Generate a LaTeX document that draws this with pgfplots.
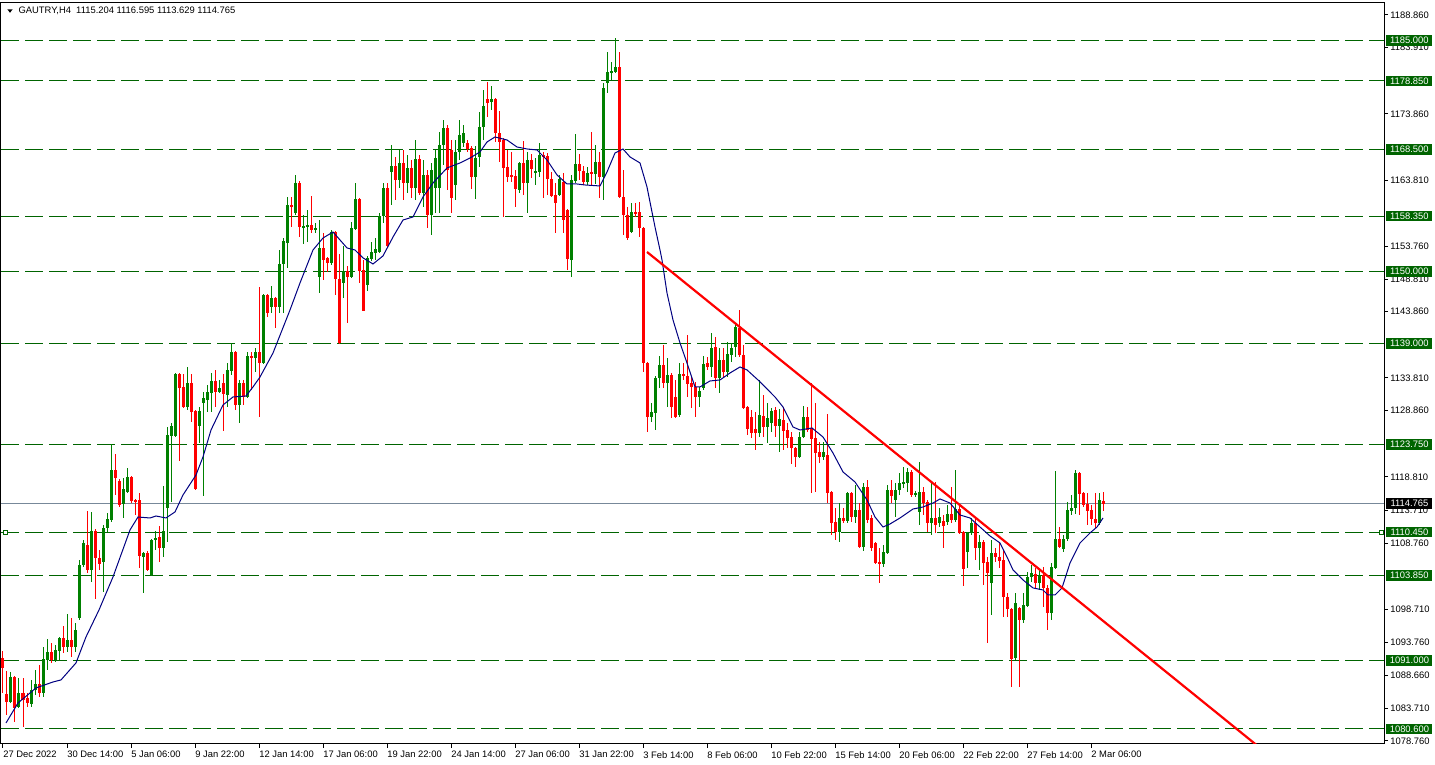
\documentclass[border=0pt]{standalone}
\usepackage{fontspec}
\setmainfont{Liberation Sans}
\usepackage{pgfplots}
\usepackage{pgfplotstable}
\pgfplotsset{compat=1.18}

\definecolor{cgreen}{RGB}{0,128,0}
\definecolor{cred}{RGB}{255,0,0}
\definecolor{lvl}{RGB}{0,100,0}
\definecolor{bid}{RGB}{119,136,153}
\definecolor{ma}{RGB}{0,0,128}
\newcommand\lbl{\fontsize{4.7}{5.6}\selectfont}

% bullish candles: bar index, open, high, low, close
\pgfplotstableread{
i o h l c
2 1084.68 1089.23 1084.53 1088.47
4 1083.92 1088.32 1083.77 1086.04
7 1084.37 1088.02 1083.92 1086.50
8 1086.50 1089.53 1085.74 1087.41
10 1086.04 1093.02 1085.43 1091.20
11 1091.05 1094.23 1089.53 1092.26
13 1091.05 1093.32 1090.75 1092.57
14 1092.41 1094.54 1091.05 1094.38
16 1093.02 1098.02 1092.26 1094.08
18 1093.02 1096.66 1092.26 1095.59
19 1097.42 1106.21 1097.12 1105.45
20 1105.45 1109.25 1105.15 1108.79
22 1104.70 1113.49 1102.88 1110.61
25 1105.91 1111.52 1101.36 1111.06
26 1111.06 1113.34 1110.46 1112.43
27 1112.28 1123.80 1111.97 1119.86
30 1114.70 1118.64 1112.58 1116.98
31 1116.52 1120.16 1116.37 1118.80
35 1106.67 1107.40 1101.21 1107.27
37 1103.94 1109.40 1103.80 1109.25
38 1109.25 1110.61 1107.73 1109.55
40 1108.03 1117.44 1106.67 1110.61
41 1114.10 1126.38 1108.94 1125.17
42 1125.01 1126.99 1115.01 1126.53
43 1125.01 1134.57 1124.86 1134.42
46 1129.41 1135.48 1128.96 1133.05
49 1126.53 1129.41 1123.96 1128.81
50 1130.02 1131.69 1115.92 1130.78
51 1130.48 1132.75 1128.66 1131.69
52 1131.54 1134.57 1128.66 1133.36
54 1131.69 1133.51 1131.54 1132.29
56 1131.23 1136.09 1129.41 1135.03
57 1134.87 1139.12 1134.27 1137.75
59 1129.72 1133.51 1126.99 1133.05
61 1130.93 1137.75 1130.78 1137.15
63 1136.84 1138.36 1134.72 1137.75
65 1136.09 1146.60 1135.90 1146.40
67 1144.58 1147.76 1143.67 1145.95
69 1144.58 1153.22 1143.67 1151.10
70 1151.10 1155.04 1143.67 1154.58
71 1154.28 1161.26 1150.50 1160.05
73 1158.83 1164.60 1158.53 1163.38
75 1156.71 1158.53 1154.13 1156.86
76 1156.71 1159.29 1154.43 1157.02
78 1156.26 1157.32 1155.80 1156.56
79 1149.13 1157.75 1146.70 1153.53
82 1151.26 1156.26 1150.95 1155.95
85 1148.22 1153.83 1145.95 1150.04
87 1149.13 1157.47 1149.00 1156.56
88 1156.41 1163.38 1156.26 1160.96
91 1147.91 1152.32 1147.00 1152.02
92 1151.86 1154.43 1151.56 1152.92
93 1152.77 1155.04 1151.71 1153.38
94 1152.92 1158.83 1152.77 1158.38
95 1158.38 1163.38 1157.32 1162.62
97 1165.05 1169.15 1160.05 1165.96
99 1163.84 1168.39 1162.62 1166.42
101 1163.38 1167.63 1161.87 1165.66
103 1162.62 1169.90 1160.81 1167.02
105 1161.87 1166.87 1159.74 1164.60
107 1158.53 1166.42 1155.50 1165.35
108 1162.62 1168.39 1158.83 1167.17
109 1162.62 1171.12 1158.83 1169.15
110 1169.15 1172.94 1166.11 1171.72
113 1163.08 1169.90 1160.81 1168.09
114 1168.09 1172.94 1166.87 1170.66
115 1169.45 1172.18 1168.84 1170.96
118 1164.29 1168.99 1160.96 1167.17
119 1167.33 1174.15 1165.81 1171.87
120 1171.87 1177.49 1169.90 1175.06
122 1175.67 1178.09 1174.45 1176.12
129 1162.32 1166.50 1161.87 1166.42
131 1163.38 1168.09 1158.83 1166.87
133 1164.90 1167.17 1163.08 1165.20
134 1165.05 1169.45 1164.29 1167.63
139 1161.56 1164.60 1161.41 1163.99
142 1151.71 1164.60 1149.13 1163.84
143 1163.69 1170.81 1163.38 1166.26
146 1163.53 1165.81 1163.08 1164.90
148 1164.75 1169.15 1163.23 1166.57
150 1164.29 1178.55 1160.81 1177.79
151 1178.55 1183.25 1177.03 1180.22
152 1180.07 1181.73 1179.00 1180.37
153 1180.22 1185.37 1180.10 1180.97
157 1155.95 1160.35 1155.80 1158.99
162 1127.90 1130.02 1127.14 1128.66
163 1128.50 1134.12 1125.92 1133.81
164 1133.81 1137.15 1132.29 1135.78
166 1133.05 1136.84 1129.41 1134.27
169 1128.20 1136.09 1127.90 1134.42
174 1130.93 1132.45 1129.41 1131.84
175 1132.29 1137.15 1131.99 1135.93
177 1135.48 1140.64 1133.96 1138.36
179 1133.81 1138.36 1131.54 1136.54
181 1134.72 1139.27 1133.96 1137.45
182 1137.30 1139.12 1136.24 1138.36
183 1138.51 1142.16 1137.00 1141.55
189 1125.47 1133.51 1124.86 1128.20
191 1126.38 1130.02 1124.00 1127.75
192 1126.99 1129.26 1125.62 1128.81
194 1126.53 1129.11 1122.59 1127.60
199 1121.84 1125.62 1121.70 1124.86
200 1124.86 1129.57 1124.70 1127.90
205 1121.84 1124.10 1121.37 1122.59
209 1110.46 1114.85 1108.94 1112.58
211 1112.13 1116.52 1111.82 1116.37
213 1112.73 1117.59 1111.82 1113.79
215 1108.18 1117.89 1107.58 1117.29
220 1105.61 1108.49 1105.15 1107.42
221 1107.27 1117.59 1107.10 1116.83
223 1115.31 1117.89 1112.73 1116.83
224 1116.83 1119.40 1116.07 1117.89
225 1117.74 1120.31 1117.13 1118.04
226 1117.89 1120.16 1116.52 1119.56
228 1116.07 1116.60 1115.80 1116.37
229 1113.49 1121.07 1111.52 1116.52
232 1111.82 1118.04 1110.00 1112.58
234 1111.82 1114.10 1111.21 1112.73
236 1111.97 1114.55 1111.52 1113.19
238 1112.28 1119.86 1111.97 1113.94
241 1107.42 1110.46 1105.00 1110.31
242 1110.31 1112.58 1110.00 1111.82
244 1108.03 1110.00 1104.70 1108.94
247 1102.73 1109.25 1097.87 1107.27
253 1091.35 1101.21 1091.05 1099.69
255 1097.12 1101.21 1096.66 1099.39
256 1099.24 1104.39 1099.09 1103.64
257 1103.64 1105.45 1102.88 1104.24
259 1102.73 1104.70 1101.66 1103.94
262 1098.17 1105.76 1097.12 1105.15
263 1105.00 1119.71 1104.90 1109.40
265 1107.88 1110.00 1107.42 1109.40
266 1109.40 1115.01 1109.10 1113.79
267 1113.64 1116.07 1113.03 1114.10
268 1114.10 1119.86 1113.19 1119.40
274 1111.82 1116.37 1111.52 1115.31
}\upcandles

% bearish candles
\pgfplotstableread{
i o h l c
0 1091.35 1092.41 1086.04 1089.83
1 1085.89 1089.38 1082.71 1084.68
3 1088.47 1088.60 1081.64 1083.77
5 1086.04 1088.32 1080.89 1084.98
6 1085.28 1086.04 1083.92 1084.53
9 1087.41 1090.29 1085.43 1086.04
12 1092.26 1093.63 1090.60 1091.05
15 1094.38 1096.20 1092.11 1093.02
17 1094.08 1097.42 1091.50 1093.02
21 1108.49 1113.64 1104.24 1104.70
23 1110.61 1110.91 1100.30 1106.52
24 1106.52 1107.73 1104.70 1105.61
28 1119.86 1122.28 1116.07 1118.64
29 1118.19 1118.49 1114.25 1114.55
32 1118.80 1118.95 1114.85 1115.16
33 1115.31 1115.40 1113.03 1115.16
34 1115.31 1116.37 1105.00 1106.82
36 1107.27 1107.58 1104.60 1104.70
39 1109.70 1111.36 1105.91 1108.03
44 1134.42 1134.57 1121.20 1132.29
45 1132.45 1134.42 1129.30 1129.41
47 1133.05 1134.42 1127.14 1128.66
48 1128.81 1129.00 1116.83 1116.98
53 1133.36 1135.03 1129.41 1131.69
55 1133.05 1134.42 1125.77 1131.39
58 1137.75 1137.90 1128.96 1129.72
60 1133.05 1133.51 1129.72 1130.93
62 1137.15 1137.75 1131.99 1136.84
64 1137.75 1147.61 1127.90 1136.09
66 1146.40 1146.60 1143.07 1143.67
68 1145.95 1146.10 1141.39 1144.58
72 1160.05 1161.26 1156.71 1159.74
74 1163.38 1163.69 1155.19 1156.71
77 1157.02 1161.41 1155.80 1156.26
80 1153.53 1155.80 1148.67 1151.71
81 1152.02 1152.17 1149.89 1151.26
83 1155.95 1156.10 1146.40 1148.82
84 1148.82 1152.62 1139.00 1139.12
86 1150.04 1150.80 1142.19 1149.13
89 1160.96 1161.11 1148.22 1150.04
90 1150.19 1151.71 1143.90 1143.98
96 1162.62 1163.38 1153.70 1153.83
98 1165.96 1167.33 1160.81 1163.84
100 1166.42 1168.39 1160.81 1163.38
102 1165.66 1166.87 1161.11 1162.62
104 1167.02 1167.63 1161.56 1161.87
106 1164.60 1165.35 1156.56 1158.53
111 1171.72 1172.18 1162.32 1165.35
112 1168.39 1169.90 1158.83 1161.11
116 1169.45 1169.90 1168.09 1168.54
117 1168.69 1168.99 1162.47 1164.29
121 1176.12 1178.70 1173.39 1175.51
123 1176.12 1176.30 1169.60 1170.96
124 1170.96 1174.30 1166.57 1169.60
125 1169.90 1170.20 1158.23 1165.66
126 1165.81 1168.39 1163.53 1164.29
127 1164.60 1168.09 1163.53 1164.29
128 1164.44 1165.35 1159.74 1162.47
130 1166.42 1169.75 1161.56 1163.38
132 1166.87 1167.78 1164.14 1165.50
135 1167.63 1168.09 1161.11 1167.33
136 1167.48 1167.93 1161.56 1163.99
137 1163.99 1165.05 1161.26 1161.41
138 1161.56 1163.38 1155.80 1160.35
140 1163.53 1164.90 1155.80 1157.77
141 1159.29 1159.40 1150.19 1151.86
144 1166.26 1167.78 1163.84 1165.20
145 1165.20 1165.96 1163.08 1163.53
147 1165.05 1171.12 1163.08 1164.75
149 1166.57 1168.09 1161.11 1164.29
154 1180.97 1183.25 1161.10 1161.26
155 1161.26 1165.35 1155.50 1158.53
156 1158.53 1159.74 1154.74 1155.04
158 1158.99 1160.35 1158.23 1158.83
159 1158.99 1160.50 1155.19 1156.56
160 1156.56 1156.70 1134.72 1136.09
161 1136.09 1136.20 1125.62 1127.90
165 1135.78 1138.81 1132.29 1133.05
167 1134.27 1134.57 1127.75 1129.41
168 1130.93 1133.51 1127.75 1127.90
170 1134.42 1136.09 1133.51 1134.12
171 1134.12 1140.33 1130.93 1132.90
172 1133.05 1133.96 1129.26 1132.45
173 1132.45 1133.20 1127.90 1130.93
176 1136.09 1137.00 1135.03 1135.48
178 1138.51 1140.03 1132.29 1133.81
180 1136.54 1138.36 1133.96 1134.72
184 1141.39 1144.12 1137.00 1137.30
185 1137.30 1138.81 1129.10 1129.26
186 1129.41 1129.50 1125.17 1126.08
187 1127.90 1128.96 1124.71 1125.47
188 1126.08 1128.66 1122.89 1125.47
190 1128.05 1131.23 1124.86 1126.38
193 1128.96 1129.41 1124.86 1126.53
195 1127.45 1129.41 1122.89 1125.77
196 1125.92 1126.99 1123.20 1124.71
197 1124.86 1125.62 1120.74 1123.20
198 1123.20 1123.35 1120.28 1121.84
201 1127.90 1129.41 1125.62 1125.92
202 1126.23 1133.05 1116.37 1124.56
203 1124.71 1130.02 1116.52 1122.43
204 1122.59 1124.10 1120.92 1121.84
206 1122.13 1128.35 1114.85 1116.37
207 1116.52 1116.60 1110.00 1111.82
208 1111.97 1114.10 1109.25 1110.46
210 1112.58 1114.10 1111.82 1112.13
212 1116.37 1116.52 1111.97 1112.73
214 1113.79 1114.85 1108.10 1108.18
216 1117.29 1118.34 1111.82 1112.28
217 1112.58 1113.03 1107.58 1108.03
218 1108.79 1108.94 1105.60 1105.76
219 1105.91 1108.03 1102.73 1105.61
222 1116.83 1118.34 1114.85 1115.92
227 1119.56 1119.86 1115.77 1116.07
230 1116.52 1117.29 1113.03 1114.85
231 1115.01 1115.31 1110.46 1111.82
233 1112.58 1118.04 1110.31 1111.52
235 1112.13 1113.03 1108.03 1111.36
237 1113.19 1117.29 1111.82 1112.28
239 1113.94 1114.55 1110.20 1110.31
240 1110.46 1110.60 1102.27 1104.85
243 1111.82 1112.73 1106.21 1108.03
245 1108.94 1109.25 1102.42 1105.76
246 1105.91 1106.67 1093.63 1104.24
248 1107.27 1108.03 1105.91 1106.67
249 1106.67 1108.79 1105.00 1106.06
250 1106.21 1107.73 1097.57 1100.60
251 1100.60 1101.21 1097.57 1098.78
252 1098.78 1098.90 1086.95 1091.20
254 1098.93 1099.09 1086.95 1097.12
258 1104.09 1105.00 1101.97 1102.73
260 1103.94 1105.15 1099.09 1101.97
261 1101.97 1102.42 1095.59 1098.17
264 1109.40 1111.21 1108.03 1108.18
269 1119.40 1119.56 1113.03 1116.22
270 1116.37 1116.52 1114.25 1114.55
271 1114.70 1116.37 1111.52 1113.64
272 1113.79 1114.55 1111.52 1112.43
273 1112.43 1116.37 1111.06 1111.82
275 1115.204 1116.595 1113.629 1114.765
}\downcandles

\begin{document}
\begin{tikzpicture}
\begin{axis}[
    name=ax,
    x=2pt, y=3.297pt,
    xmin=-0.5, xmax=345.25,
    ymin=1078.31, ymax=1190.68,
    axis line style={line width=0.5pt},
    tick style={line width=0.5pt, black},
    tick align=outside, major tick length=2pt,
    xtick pos=bottom, ytick pos=right,
    yticklabel pos=right,
    xtick={0,16,...,272},
    xticklabels={27 Dec 2022, 30 Dec 14:00, 5 Jan 06:00, 9 Jan 22:00,
        12 Jan 14:00, 17 Jan 06:00, 19 Jan 22:00, 24 Jan 14:00,
        27 Jan 06:00, 31 Jan 22:00, 3 Feb 14:00, 8 Feb 06:00,
        10 Feb 22:00, 15 Feb 14:00, 20 Feb 06:00, 22 Feb 22:00,
        27 Feb 14:00, 2 Mar 06:00},
    ytick={1078.76,1083.71,1088.66,1093.76,1098.71,1108.76,
        1113.71,1118.81,1128.86,1133.81,1143.86,
        1148.81,1153.76,1163.81,1173.86,
        1183.91,1188.86},
    scaled y ticks=false,
    xticklabel style={font=\lbl, anchor=north west, inner sep=0pt, yshift=-1.5pt},
    yticklabel style={font=\lbl, anchor=west, inner sep=0pt, xshift=1pt,
        /pgf/number format/fixed, /pgf/number format/fixed zerofill,
        /pgf/number format/precision=3, /pgf/number format/1000 sep={},
        /pgf/number format/assume math mode=true},
]
% price levels
\addplot[lvl, line width=0.5pt, dash pattern=on 9pt off 3pt] coordinates {(-0.5,1185) (345.25,1185)};
\addplot[lvl, line width=0.5pt, dash pattern=on 9pt off 3pt] coordinates {(-0.5,1178.85) (345.25,1178.85)};
\addplot[lvl, line width=0.5pt, dash pattern=on 9pt off 3pt] coordinates {(-0.5,1168.5) (345.25,1168.5)};
\addplot[lvl, line width=0.5pt, dash pattern=on 9pt off 3pt] coordinates {(-0.5,1158.35) (345.25,1158.35)};
\addplot[lvl, line width=0.5pt, dash pattern=on 9pt off 3pt] coordinates {(-0.5,1150) (345.25,1150)};
\addplot[lvl, line width=0.5pt, dash pattern=on 9pt off 3pt] coordinates {(-0.5,1139) (345.25,1139)};
\addplot[lvl, line width=0.5pt, dash pattern=on 9pt off 3pt] coordinates {(-0.5,1123.75) (345.25,1123.75)};
\addplot[lvl, line width=0.5pt, dash pattern=on 9pt off 3pt] coordinates {(-0.5,1110.45) (345.25,1110.45)};
\addplot[lvl, line width=0.5pt, dash pattern=on 9pt off 3pt] coordinates {(-0.5,1103.85) (345.25,1103.85)};
\addplot[lvl, line width=0.5pt, dash pattern=on 9pt off 3pt] coordinates {(-0.5,1091) (345.25,1091)};
\addplot[lvl, line width=0.5pt, dash pattern=on 9pt off 3pt] coordinates {(-0.5,1080.6) (345.25,1080.6)};
% bid line
\addplot[bid, line width=0.5pt] coordinates {(-0.5,1114.765) (345.25,1114.765)};
\addplot[only marks, mark=square*, mark size=1pt, lvl, line width=0.4pt,
    mark options={fill=white}] coordinates {(0.5,1110.45) (344.5,1110.45)};

% wicks and bodies
\addplot[draw=none, mark=none, error bars/.cd, y dir=both, y explicit, error mark=none,
    error bar style={line width=0.5pt, draw=cgreen}]
    table[x=i, y expr=(\thisrow{h}+\thisrow{l})/2, y error expr=(\thisrow{h}-\thisrow{l})/2] {\upcandles};
\addplot[draw=none, mark=none, error bars/.cd, y dir=both, y explicit, error mark=none,
    error bar style={line width=0.5pt, draw=cred}]
    table[x=i, y expr=(\thisrow{h}+\thisrow{l})/2, y error expr=(\thisrow{h}-\thisrow{l})/2] {\downcandles};
\addplot[draw=none, mark=none, error bars/.cd, y dir=both, y explicit, error mark=none,
    error bar style={line width=1.5pt, draw=cgreen}]
    table[x=i, y expr=(\thisrow{o}+\thisrow{c})/2, y error expr={max(abs(\thisrow{c}-\thisrow{o})/2,0.08)}] {\upcandles};
\addplot[draw=none, mark=none, error bars/.cd, y dir=both, y explicit, error mark=none,
    error bar style={line width=1.5pt, draw=cred}]
    table[x=i, y expr=(\thisrow{o}+\thisrow{c})/2, y error expr={max(abs(\thisrow{c}-\thisrow{o})/2,0.08)}] {\downcandles};

% moving average
\addplot[ma, line width=0.5pt] coordinates {
(0.75,1081.49) (3.75,1084.53) (8.25,1086.80) (12.5,1087.71) (14.5,1088.02)
(18.25,1090.60) (20.75,1094.54) (24,1098.63) (27.5,1103.64) (31.75,1110.76)
(33.75,1112.73) (36.75,1112.58) (38.25,1112.88) (40.75,1112.58) (43,1113.49)
(45,1116.07) (48.25,1119.10) (50,1121.84) (52,1125.92) (55,1129.72)
(57.5,1130.93) (60.75,1131.08) (62.5,1132.45) (64.25,1133.96) (67.5,1137.60)
(71.75,1144.12) (74.25,1148.22) (77.5,1153.22) (80,1155.04) (82.5,1155.95)
(84.25,1154.74) (86,1153.53) (88,1153.22) (90,1152.02) (92.5,1151.10)
(95,1152.32) (97.5,1155.19) (100,1157.77) (102.5,1158.23) (105,1161.26)
(107.5,1163.38) (111,1165.66) (114.25,1166.42) (116.75,1167.17) (119.25,1168.09)
(121,1169.60) (123,1170.36) (126,1169.90) (128.5,1168.84) (131,1168.54)
(133.5,1168.39) (136,1166.87) (138.5,1164.60) (141,1163.23) (143.5,1163.23)
(145.5,1163.08) (149.25,1162.93) (151,1165.05) (153,1167.93) (155,1168.54)
(156.75,1167.33) (159.25,1166.42) (161,1162.77) (163,1156.71) (164.25,1153.22)
(164.75,1151.71) (166,1146.70) (167.5,1142.61) (169.25,1139.12) (171,1136.09)
(173,1132.45) (174.25,1132.45) (176.75,1133.36) (179.25,1133.51) (181.75,1134.57)
(184.25,1135.48) (186,1135.03) (188.75,1133.51) (191.75,1131.69) (193,1130.93)
(195,1129.41) (197.5,1126.38) (199.25,1125.92) (202.25,1126.23) (205,1124.86)
(207.5,1122.43) (210,1119.56) (213,1118.04) (216,1115.31) (218,1112.73)
(220,1111.21) (221.75,1111.67) (224.25,1112.58) (227.5,1113.94) (230,1114.25)
(232.5,1114.85) (234.25,1115.46) (236.75,1114.85) (239.25,1113.03) (241.75,1112.58)
(244.25,1111.21) (246.75,1109.85) (249.25,1108.79) (251,1106.67) (252.5,1104.70)
(255,1103.18) (257.5,1101.97) (260,1101.66) (261.25,1100.90) (263,1100.90)
(264.75,1101.97) (266.75,1105.76) (269.25,1108.79) (271.75,1110.31) (273.5,1111.21)
(275,1112.58)
};

% trend line
\addplot[cred, line width=1.1pt] coordinates {(161,1152.92) (320,1074.9)};

\coordinate (L1) at (axis cs:345.25,1185);
\coordinate (L2) at (axis cs:345.25,1178.85);
\coordinate (L3) at (axis cs:345.25,1168.5);
\coordinate (L4) at (axis cs:345.25,1158.35);
\coordinate (L5) at (axis cs:345.25,1150);
\coordinate (L6) at (axis cs:345.25,1139);
\coordinate (L7) at (axis cs:345.25,1123.75);
\coordinate (L8) at (axis cs:345.25,1110.45);
\coordinate (L9) at (axis cs:345.25,1103.85);
\coordinate (L10) at (axis cs:345.25,1091);
\coordinate (L11) at (axis cs:345.25,1080.6);
\coordinate (LB) at (axis cs:345.25,1114.765);
\end{axis}

\tikzset{box/.style={fill=lvl, text=white, font=\lbl, anchor=west, inner sep=0pt,
    minimum width=23pt, minimum height=5.3pt, xshift=1pt}}
\foreach \n/\v in {L1/1185.000, L2/1178.850, L3/1168.500, L4/1158.350,
    L5/1150.000, L6/1139.000, L7/1123.750, L8/1110.450, L9/1103.850,
    L10/1091.000, L11/1080.600}
  \node[box] at (\n) {\v};
\node[box, fill=black] at (LB) {1114.765};

\fill ([xshift=3.2pt,yshift=-3.2pt]ax.north west) -- ++(2.6pt,0) -- ++(-1.3pt,-1.7pt) -- cycle;
\node[anchor=west, inner sep=0pt, font=\lbl] at ([xshift=8.6pt,yshift=-3.9pt]ax.north west)
    {GAUTRY,H4\ \ 1115.204 1116.595 1113.629 1114.765};

\pgfresetboundingbox
\path ([xshift=-0.5pt,yshift=-10.5pt]ax.south west) rectangle ([xshift=25.5pt,yshift=1.5pt]ax.north east);
\end{tikzpicture}
\end{document}
